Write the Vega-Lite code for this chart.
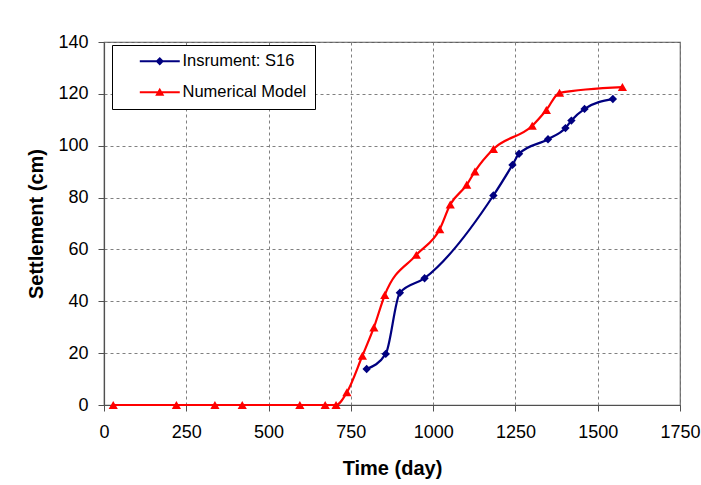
{
  "$schema": "https://vega.github.io/schema/vega-lite/v6.json",
  "autosize": {"type": "none"},
  "width": 576,
  "height": 363,
  "padding": {"left": 104, "top": 42, "right": 21, "bottom": 80},
  "background": "white",
  "config": {
    "font": "Liberation Sans",
    "view": {"stroke": "#606060", "strokeWidth": 1.2},
    "axis": {
      "labelFont": "Liberation Sans",
      "labelFontSize": 18,
      "labelColor": "#000000",
      "titleFont": "Liberation Sans",
      "titleFontSize": 20,
      "titleFontWeight": "bold",
      "titleColor": "#000000",
      "domainColor": "#505050",
      "domainWidth": 1.2,
      "tickColor": "#505050",
      "tickSize": 6,
      "gridColor": "#808080",
      "gridDash": [3, 3],
      "gridWidth": 1
    }
  },
  "datasets": {
    "settlement": [
      {"series": "Insrument: S16", "day": 798, "cm": 13.9},
      {"series": "Insrument: S16", "day": 856, "cm": 19.7},
      {"series": "Insrument: S16", "day": 899, "cm": 43.3},
      {"series": "Insrument: S16", "day": 974, "cm": 48.9},
      {"series": "Insrument: S16", "day": 1183, "cm": 80.8},
      {"series": "Insrument: S16", "day": 1241, "cm": 92.6},
      {"series": "Insrument: S16", "day": 1261, "cm": 96.9},
      {"series": "Insrument: S16", "day": 1349, "cm": 102.5},
      {"series": "Insrument: S16", "day": 1402, "cm": 106.8},
      {"series": "Insrument: S16", "day": 1420, "cm": 109.7},
      {"series": "Insrument: S16", "day": 1460, "cm": 114.2},
      {"series": "Insrument: S16", "day": 1546, "cm": 118.0},
      {"series": "Numerical Model", "day": 28, "cm": 0},
      {"series": "Numerical Model", "day": 220, "cm": 0},
      {"series": "Numerical Model", "day": 337, "cm": 0},
      {"series": "Numerical Model", "day": 420, "cm": 0},
      {"series": "Numerical Model", "day": 595, "cm": 0},
      {"series": "Numerical Model", "day": 672, "cm": 0},
      {"series": "Numerical Model", "day": 705, "cm": 0},
      {"series": "Numerical Model", "day": 738, "cm": 4.9},
      {"series": "Numerical Model", "day": 785, "cm": 19.0},
      {"series": "Numerical Model", "day": 820, "cm": 29.9},
      {"series": "Numerical Model", "day": 853, "cm": 42.4},
      {"series": "Numerical Model", "day": 949, "cm": 57.9},
      {"series": "Numerical Model", "day": 1020, "cm": 67.8},
      {"series": "Numerical Model", "day": 1052, "cm": 77.3},
      {"series": "Numerical Model", "day": 1102, "cm": 84.9},
      {"series": "Numerical Model", "day": 1127, "cm": 90.1},
      {"series": "Numerical Model", "day": 1183, "cm": 98.7},
      {"series": "Numerical Model", "day": 1301, "cm": 107.7},
      {"series": "Numerical Model", "day": 1344, "cm": 113.8},
      {"series": "Numerical Model", "day": 1384, "cm": 120.4},
      {"series": "Numerical Model", "day": 1575, "cm": 122.6}
    ]
  },
  "data": {"name": "settlement"},
  "encoding": {
    "x": {
      "field": "day",
      "type": "quantitative",
      "title": "Time (day)",
      "scale": {"domain": [0, 1750], "nice": false, "zero": false},
      "axis": {"values": [0, 250, 500, 750, 1000, 1250, 1500, 1750], "format": "d", "labelPadding": 12, "titlePadding": 17, "labelFlush": false}
    },
    "y": {
      "field": "cm",
      "type": "quantitative",
      "title": "Settlement (cm)",
      "scale": {"domain": [0, 140], "nice": false},
      "axis": {"values": [0, 20, 40, 60, 80, 100, 120, 140], "format": "d", "labelPadding": 10, "titlePadding": 11}
    },
    "color": {
      "field": "series",
      "type": "nominal",
      "scale": {"domain": ["Insrument: S16", "Numerical Model"], "range": ["#000080", "#FF0000"]},
      "legend": {
        "title": null,
        "orient": "none",
        "legendX": 8,
        "legendY": 3,
        "padding": 8,
        "rowPadding": 14,
        "strokeColor": "#000000",
        "fillColor": "#FFFFFF",
        "symbolSize": 196,
        "labelOffset": 46,
        "labelFont": "Liberation Sans",
        "labelFontSize": 16.5,
        "labelColor": "#000000",
        "encode": {
          "symbols": {
            "update": {
              "shape": {"signal": "datum.value === 'Numerical Model' ? 'M1.65,-0.15H7.36V0.15H1.65Z M4.5,-0.65L5.15,0.5H3.85Z' : 'M1.65,-0.15H7.36V0.15H1.65Z M4.5,-0.6L5.1,0L4.5,0.6L3.9,0Z'"},
              "fill": {"signal": "datum.value === 'Numerical Model' ? '#FF0000' : '#000080'"},
              "stroke": {"value": "transparent"},
              "strokeWidth": {"value": 0},
              "opacity": {"value": 1}
            }
          }
        }
      }
    }
  },
  "layer": [
    {
      "mark": {"type": "line", "interpolate": "monotone", "strokeWidth": 2.2}
    },
    {
      "transform": [{"filter": "datum.series === 'Insrument: S16'"}],
      "mark": {"type": "point", "filled": true, "opacity": 1, "shape": "diamond", "size": 70}
    },
    {
      "transform": [{"filter": "datum.series === 'Numerical Model'"}],
      "mark": {"type": "point", "filled": true, "opacity": 1, "shape": "triangle-up", "size": 85}
    }
  ]
}
